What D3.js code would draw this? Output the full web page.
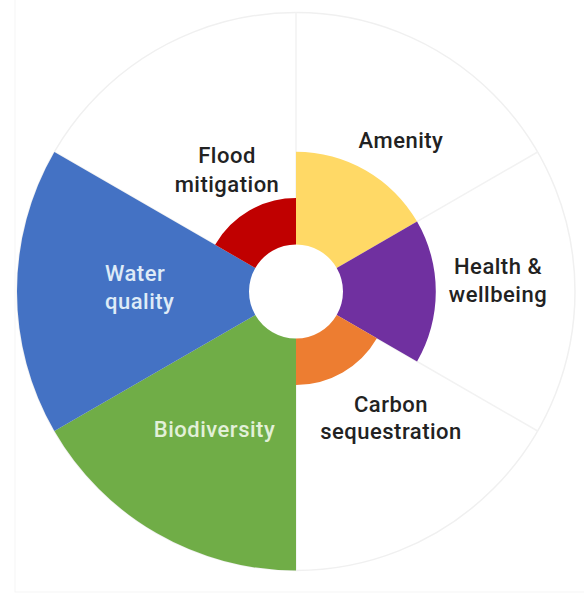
<!DOCTYPE html>
<html>
<head>
<meta charset="utf-8">
<script src="https://cdn.jsdelivr.net/npm/d3@7"></script>
<style>
  html, body { margin: 0; padding: 0; background: #fff; }
  svg { display: block; }
  text { font-family: Roboto, "DejaVu Sans", sans-serif; font-weight: 500; }
</style>
</head>
<body>
<svg id="chart" width="584" height="596"></svg>
<script>
// ---- data ----
const categories = ["Amenity", "Health & wellbeing", "Carbon sequestration", "Biodiversity", "Water quality", "Flood mitigation"];
const values = [4, 4, 2, 10, 10, 2];
const colors = ["#FFD966", "#7030A0", "#ED7D31", "#70AD47", "#4472C4", "#C00000"];
const labelLines = [["Amenity"], ["Health &", "wellbeing"], ["Carbon", "sequestration"], ["Biodiversity"], ["Water", "quality"], ["Flood", "mitigation"]];
const maxValue = 10;

// ---- layout ----
const W = 584, H = 596;
const cx = 296, cy = 291.5;
const innerR = 47, outerR = 279;
const labelLayout = [
  { x: 105, ys: [-143.5], anchor: "middle", fill: "#222222" },
  { x: 202, ys: [-17.5, 10.5], anchor: "middle", fill: "#222222" },
  { x: 95, ys: [120.5, 147.5], anchor: "middle", fill: "#222222" },
  { x: -81.5, ys: [145.5], anchor: "middle", fill: "#E2F0D9" },
  { x: -191, ys: [-10.5, 17.5], anchor: "start", fill: "#DEEBF7" },
  { x: -69, ys: [-128.5, -99.5], anchor: "middle", fill: "#222222" }
];

const svg = d3.select("#chart");
svg.append("rect").attr("x", 15).attr("y", -2).attr("width", W).attr("height", 594)
  .attr("fill", "none").attr("stroke", "#f5f5f5").attr("stroke-width", 1);

const g = svg.append("g").attr("transform", `translate(${cx},${cy})`);

const angle = d3.scaleBand().domain(categories).range([0, 2 * Math.PI]).paddingInner(0).paddingOuter(0);
const r = d3.scaleLinear().domain([0, maxValue]).range([innerR, outerR]);

// grid
g.append("circle").attr("r", outerR).attr("fill", "none").attr("stroke", "#f0f0f0").attr("stroke-width", 1.5);
g.selectAll("line.grid").data(categories).enter().append("line")
  .attr("class", "grid")
  .attr("x1", d => innerR * Math.sin(angle(d)))
  .attr("y1", d => -innerR * Math.cos(angle(d)))
  .attr("x2", d => outerR * Math.sin(angle(d)))
  .attr("y2", d => -outerR * Math.cos(angle(d)))
  .attr("stroke", "#f2f2f2").attr("stroke-width", 1.5);

// sectors
const arc = d3.arc()
  .innerRadius(innerR)
  .outerRadius(d => r(d.value))
  .startAngle(d => angle(d.cat))
  .endAngle(d => angle(d.cat) + angle.bandwidth());

const data = categories.map((c, i) => ({ cat: c, value: values[i], color: colors[i] }));
g.selectAll("path.sector").data(data).enter().append("path")
  .attr("class", "sector")
  .attr("d", arc)
  .attr("fill", d => d.color);

// labels
data.forEach((d, i) => {
  const L = labelLayout[i];
  const t = g.append("text")
    .attr("text-anchor", L.anchor)
    .attr("fill", L.fill)
    .attr("font-size", 22)
    .attr("letter-spacing", 0.5);
  labelLines[i].forEach((line, j) => {
    t.append("tspan").attr("x", L.x).attr("y", L.ys[j]).text(line);
  });
});
</script>
</body>
</html>
